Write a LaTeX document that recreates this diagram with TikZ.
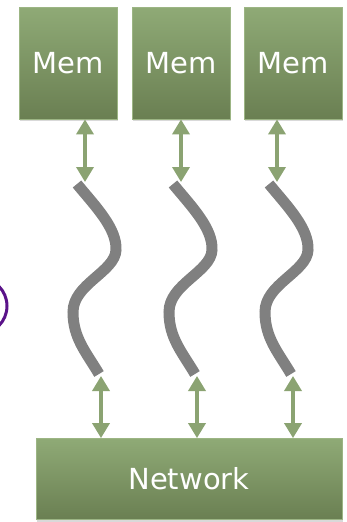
\documentclass[tikz,border=0pt]{standalone}
\usepackage{fontspec}
\setmainfont{DejaVu Sans}
\usetikzlibrary{arrows.meta,shadows}
\definecolor{gtop}{HTML}{8FAA76}
\definecolor{gbot}{HTML}{6A7F52}
\definecolor{gedge}{HTML}{9CB584}
\definecolor{garrow}{HTML}{8BA372}
\definecolor{wavegray}{HTML}{808080}
\definecolor{ringpurple}{HTML}{5A1389}
\tikzset{
  gbox/.style={draw=gedge, line width=0.8pt, top color=gtop, bottom color=gbot,
    text=white, font=\fontsize{29}{31}\selectfont, inner sep=0pt,
    drop shadow={shadow xshift=1pt, shadow yshift=-2pt, opacity=0.3}},
  dblarrow/.style={garrow, line width=3.5pt,
    {Triangle[length=15pt,width=17pt]}-{Triangle[length=15pt,width=17pt]}},
  wave/.style={wavegray, line width=11pt},
}
\begin{document}
\begin{tikzpicture}[x=1pt,y=-1pt]
\useasboundingbox (0,0) rectangle (347,522);
\draw[ringpurple, line width=3pt] (-21,306) circle (28);
\node[gbox, minimum width=98pt, minimum height=112pt] (mem1) at (68,63) {Mem};
\node[gbox, minimum width=98pt, minimum height=112pt] (mem2) at (181,63) {Mem};
\node[gbox, minimum width=98pt, minimum height=112pt] (mem3) at (293,63) {Mem};
\node[gbox, minimum width=306pt, minimum height=81pt] (net) at (189,479) {Network};
\foreach \i/\dx in {1/0,2/96,3/192}{
  \coordinate (wt\i) at ({85+\dx},182);
  \coordinate (wb\i) at ({101+\dx},376);
  \draw[dblarrow] (mem\i.south -| wt\i) -- (wt\i);
  \draw[dblarrow] (wb\i) -- (net.north -| wb\i);
  \draw[wave] ({77+\dx},184) .. controls ({95+\dx},206) and ({117+\dx},228) .. ({116+\dx},250)
     .. controls ({115+\dx},272) and ({73+\dx},284) .. ({73+\dx},312)
     .. controls ({73+\dx},338) and ({86+\dx},352) .. ({99+\dx},374);
}
\end{tikzpicture}
\end{document}
